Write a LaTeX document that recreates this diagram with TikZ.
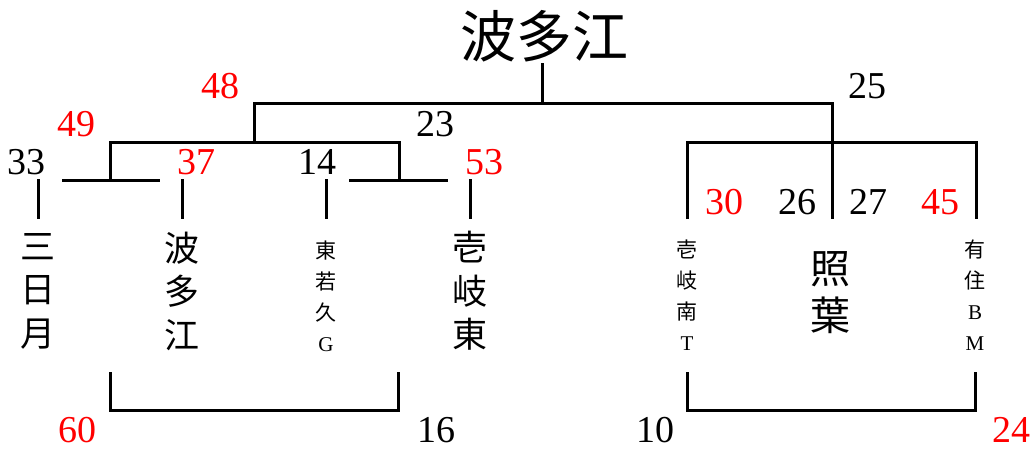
\documentclass[tikz,border=0pt]{standalone}
\usepackage{fontspec}
\setmainfont{Liberation Serif}
\newfontfamily\cjk{Noto Sans CJK JP}
\begin{document}
\begin{tikzpicture}[x=1pt,y=-1pt,line width=3pt,
  num/.style={font=\fontsize{38}{40}\selectfont,inner sep=0pt},
  rnum/.style={num,text=red},
  bigname/.style={font=\cjk\fontsize{35}{43.5}\selectfont,align=center,inner sep=0pt},
  smallname/.style={font=\cjk\fontsize{21}{31}\selectfont,align=center,inner sep=0pt}]
\useasboundingbox (0,0) rectangle (1036,450);
% title
\node[font=\cjk\fontsize{56}{60}\selectfont,inner sep=0pt] (title) at (544,36) {波多江};
% bracket lines
\coordinate (top) at (542,63);
\coordinate (topj) at (542,103);
\draw (top) -- (topj);
\draw (254,142) -- (254,103) -- (832,103) -- (832,219);
\draw (110,180) -- (110,142) -- (399,142) -- (399,180);
\draw (62,180) -- (160,180);
\draw (349,180) -- (448,180);
\draw (38,179) -- (38,219);
\draw (182,179) -- (182,219);
\draw (326,179) -- (326,219);
\draw (470,179) -- (470,219);
\draw (687,219) -- (687,142) -- (976,142) -- (976,219);
\draw (110,372) -- (110,410) -- (398,410) -- (398,372);
\draw (687,372) -- (687,410) -- (975,410) -- (975,372);
% numbers
\node[rnum] (n48) at (220,86) {48};
\node[num] (n25) at (867,86) {25};
\node[rnum] (n49) at (76,124) {49};
\node[num] (n23) at (435,124) {23};
\node[num] (n33) at (27,162) {33};
\node[rnum] (n37) at (196,162) {37};
\node[num] (n14) at (317,162) {14};
\node[rnum] (n53) at (484,162) {53};
\node[rnum] (n30) at (724,202) {30};
\node[num] (n26) at (797,202) {26};
\node[num] (n27) at (868,202) {27};
\node[rnum] (n45) at (940,202) {45};
\node[rnum] (n60) at (77,430) {60};
\node[num] (n16) at (436,430) {16};
\node[num] (n10) at (655,430) {10};
\node[rnum] (n24) at (1011,430) {24};
% names
\node[bigname] (mika) at (38,291) {三\\日\\月};
\node[bigname] (hata) at (182,291) {波\\多\\江};
\node[smallname] (higa) at (326,296) {東\\若\\久\\{\rmfamily G}};
\node[bigname] (ikih) at (470,291) {壱\\岐\\東};
\node[smallname] (ikim) at (687,295) {壱\\岐\\南\\{\rmfamily T}};
\node[font=\cjk\fontsize{40}{47}\selectfont,align=center,inner sep=0pt] (teri) at (830,293) {照\\葉};
\node[smallname] (ariz) at (975,295) {有\\住\\{\rmfamily B}\\{\rmfamily M}};
\end{tikzpicture}
\end{document}
